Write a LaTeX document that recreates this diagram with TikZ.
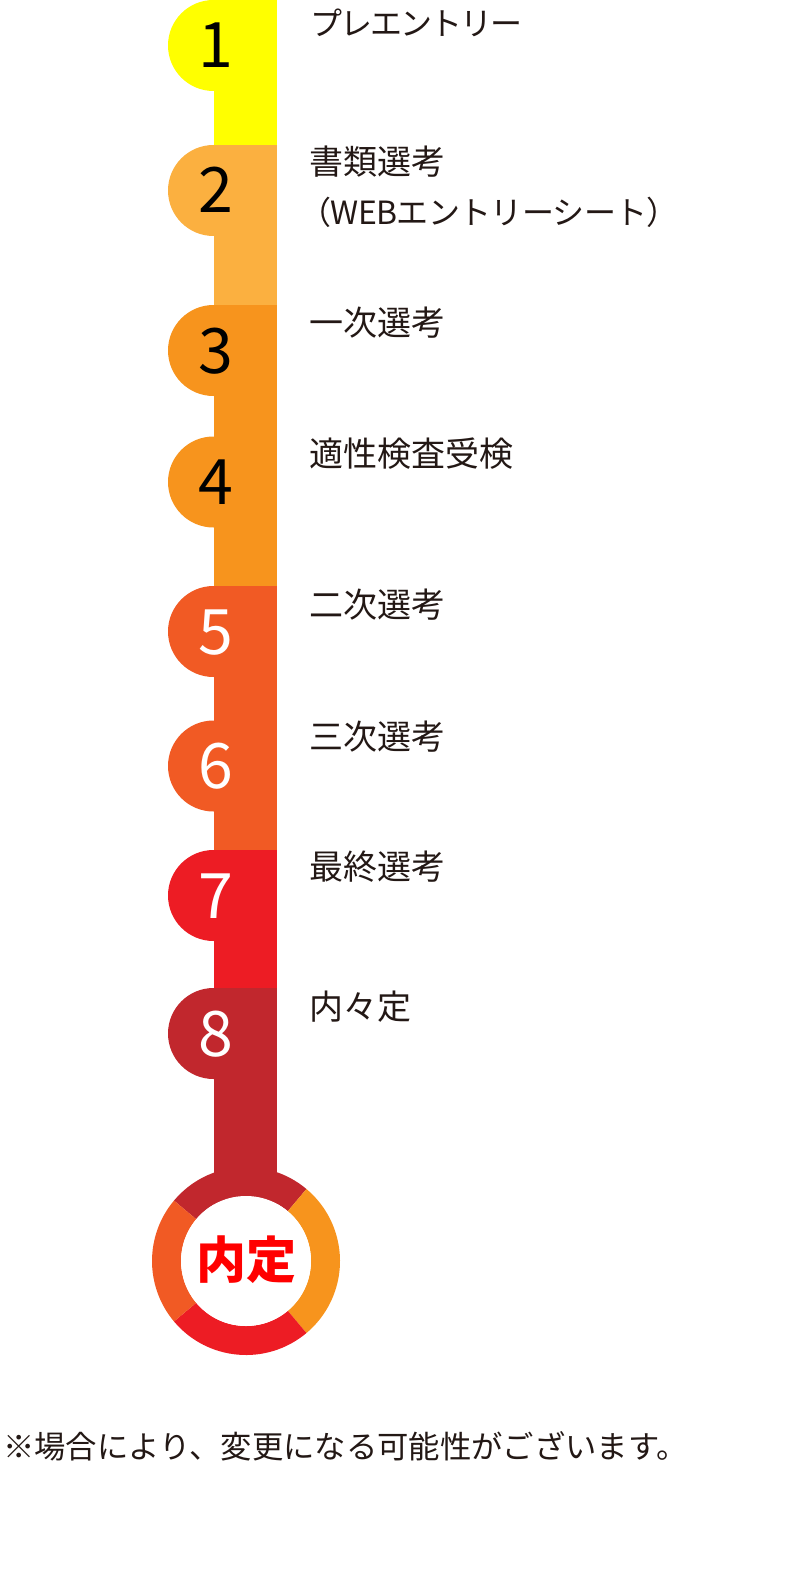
\documentclass[tikz,border=0pt]{standalone}
\usepackage{fontspec}
\setmainfont{Noto Sans CJK JP}
\newfontfamily\kanafont[LetterSpace=-6]{Noto Sans CJK JP}
\newfontfamily\mixfont[LetterSpace=-2]{Noto Sans CJK JP}
\definecolor{ink}{HTML}{231815}
\definecolor{cA}{HTML}{FFFF00}
\definecolor{cB}{HTML}{FBB040}
\definecolor{cC}{HTML}{F7941D}
\definecolor{cD}{HTML}{F15A24}
\definecolor{cE}{HTML}{ED1C24}
\definecolor{cF}{HTML}{C1272D}
\definecolor{naitei}{HTML}{FF0000}
\newcommand\ringseg[3]{\fill[#1] ([shift={(#2:94)}]rc) arc[start angle=#2,end angle=#3,radius=94] -- ([shift={(#3:65)}]rc) arc[start angle=#3,end angle=#2,radius=65] -- cycle;}
\begin{document}
\begin{tikzpicture}[x=0.75pt,y=-0.75pt]
\tikzset{
  dot/.style={circle, inner sep=0pt, minimum size=68.25pt},
  num/.style={anchor=base, inner sep=0pt, font=\fontsize{47pt}{47pt}\selectfont},
  lbl/.style={anchor=base west, inner sep=0pt, text=ink, font=\fontsize{25.5pt}{30pt}\selectfont},
  kanalbl/.style={anchor=base west, inner sep=0pt, text=ink, font=\fontsize{24pt}{28pt}\kanafont},
  mixlbl/.style={anchor=base west, inner sep=0pt, text=ink, font=\fontsize{24pt}{28pt}\mixfont},
}
\useasboundingbox (0,0) rectangle (788,1580);
% bar segments
\fill[cA] (213.5,0) rectangle (276.5,145);
\fill[cB] (213.5,145) rectangle (276.5,305);
\fill[cC] (213.5,305) rectangle (276.5,586);
\fill[cD] (213.5,586) rectangle (276.5,850);
\fill[cE] (213.5,850) rectangle (276.5,988);
\fill[cF] (213.5,988) rectangle (276.5,1210);
% step circles
\node[dot, fill=cA] (s1) at (213.5,45.5) {};
\node[dot, fill=cB] (s2) at (213.5,190.5) {};
\node[dot, fill=cC] (s3) at (213.5,350.5) {};
\node[dot, fill=cC] (s4) at (213.5,482) {};
\node[dot, fill=cD] (s5) at (213.5,631.5) {};
\node[dot, fill=cD] (s6) at (213.5,766) {};
\node[dot, fill=cE] (s7) at (213.5,895.5) {};
\node[dot, fill=cF] (s8) at (213.5,1033.5) {};
% digits
\node[num, text=black] (n1) at (216,68) {1};
\node[num, text=black] (n2) at (216,213) {2};
\node[num, text=black] (n3) at (216,373) {3};
\node[num, text=black] (n4) at (216,504.5) {4};
\node[num, text=white] (n5) at (216,654) {5};
\node[num, text=white] (n6) at (216,788.5) {6};
\node[num, text=white] (n7) at (216,918) {7};
\node[num, text=white] (n8) at (216,1056) {8};
% labels
\node[kanalbl] (l1) at (310,35.5) {プレエントリー};
\node[lbl] (l2) at (309,174.5) {書類選考};
\node[mixlbl] (l2b) at (299,225) {（WEBエントリーシート）};
\node[lbl] (l3) at (309,335.5) {一次選考};
\node[lbl] (l4) at (309,466.5) {適性検査受検};
\node[lbl] (l5) at (309,617.5) {二次選考};
\node[lbl] (l6) at (309,749.5) {三次選考};
\node[lbl] (l7) at (309,879.5) {最終選考};
\node[lbl] (l8) at (309,1019.5) {内々定};
% final ring
\coordinate (rc) at (246,1261);
\ringseg{cF}{-50}{-140}
\ringseg{cC}{50}{-50}
\ringseg{cE}{140}{50}
\ringseg{cD}{-140}{-220}
\node[circle, fill=white, inner sep=0pt, minimum size=97.5pt] (inner) at (rc) {};
\node[anchor=base, inner sep=0pt, text=naitei, font=\fontsize{37.5pt}{37.5pt}\selectfont\bfseries] (goal) at (246.5,1278) {内定};
% footnote
\node[anchor=base west, inner sep=0pt, text=ink, font=\fontsize{23.5pt}{27pt}\selectfont] (note) at (3,1458.5) {※場合により、変更になる可能性がございます。};
\end{tikzpicture}
\end{document}
